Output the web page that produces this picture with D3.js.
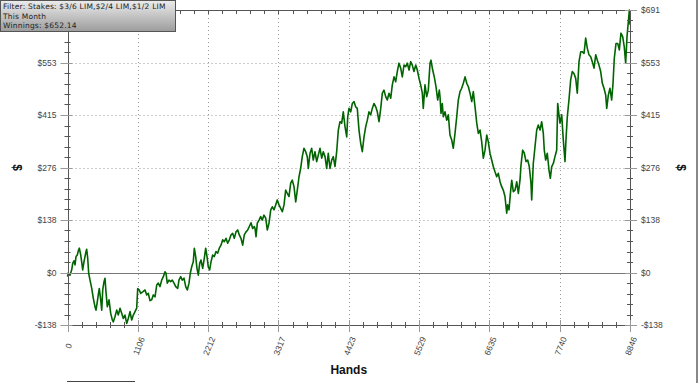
<!DOCTYPE html>
<meta charset="utf-8">
<style>
    body {
        margin: 0;
        padding: 0;
        background: #fff;
        font-family: "Liberation Sans", Arial, sans-serif;
    }

    svg {
        display: block;
    }

    .grid line {
        stroke: #999;
        stroke-dasharray: 1, 3;
    }

    .tick-label {
        fill: #444;
        font-size: 8.5px;
    }

    .axis-title {
        font-weight: bold;
        font-size: 12px;
        fill: #111;
    }
</style>
<svg width="700" height="383"></svg>
<script src="https://d3js.org/d3.v7.min.js"></script>
<script>
    // hands played (x) and cumulative winnings in $ (y)
    var hands = [0, 13, 39, 66, 82, 102, 118, 134, 154, 170, 186, 208, 223, 239, 259, 275, 291, 302, 318, 333,
        354, 381, 406, 432, 448, 469, 484, 500, 522, 538, 554, 574, 590, 605, 626, 653, 679, 705, 720, 747,
        774, 799, 826, 852, 878, 904, 931, 956, 983, 1010, 1035, 1062, 1088, 1104, 1129, 1151, 1183, 1219, 1246, 1271,
        1297, 1324, 1349, 1376, 1403, 1428, 1455, 1481, 1507, 1533, 1549, 1569, 1596, 1623, 1648, 1675, 1702, 1733, 1753, 1780,
        1805, 1832, 1859, 1884, 1911, 1931, 1953, 1978, 1994, 2016, 2036, 2057, 2079, 2099, 2126, 2151, 2173, 2194, 2214, 2236,
        2257, 2283, 2309, 2335, 2362, 2387, 2414, 2441, 2466, 2493, 2519, 2545, 2571, 2598, 2623, 2650, 2677, 2702, 2728, 2755,
        2780, 2807, 2834, 2859, 2886, 2912, 2938, 2949, 2965, 2985, 3012, 3038, 3063, 3090, 3117, 3142, 3169, 3196, 3221, 3248,
        3274, 3299, 3326, 3353, 3378, 3405, 3431, 3457, 3483, 3510, 3535, 3562, 3589, 3614, 3641, 3667, 3692, 3719, 3746, 3771,
        3787, 3814, 3840, 3865, 3892, 3919, 3944, 3971, 3998, 4023, 4050, 4076, 4101, 4128, 4155, 4180, 4207, 4233, 4259, 4285,
        4312, 4337, 4364, 4391, 4407, 4427, 4454, 4479, 4506, 4532, 4557, 4584, 4611, 4636, 4663, 4690, 4715, 4741, 4768, 4793,
        4820, 4847, 4872, 4899, 4926, 4951, 4977, 5004, 5029, 5056, 5083, 5108, 5135, 5161, 5186, 5213, 5240, 5265, 5292, 5319,
        5344, 5371, 5397, 5422, 5449, 5476, 5501, 5528, 5554, 5580, 5595, 5622, 5649, 5674, 5701, 5716, 5743, 5768, 5795, 5822,
        5847, 5858, 5874, 5894, 5910, 5937, 5963, 5989, 6015, 6042, 6067, 6094, 6121, 6146, 6173, 6199, 6225, 6252, 6279, 6304,
        6330, 6357, 6382, 6409, 6436, 6461, 6488, 6514, 6539, 6566, 6593, 6618, 6644, 6671, 6696, 6723, 6750, 6775, 6802, 6828,
        6853, 6880, 6907, 6922, 6943, 6970, 6986, 7011, 7038, 7065, 7090, 7116, 7132, 7158, 7184, 7211, 7237, 7262, 7289, 7300,
        7325, 7352, 7379, 7404, 7431, 7457, 7483, 7498, 7520, 7545, 7572, 7593, 7615, 7640, 7666, 7693, 7709, 7729, 7745, 7772,
        7797, 7824, 7839, 7860, 7886, 7913, 7938, 7965, 7992, 8017, 8044, 8071, 8096, 8123, 8149, 8175, 8201, 8228, 8253, 8280,
        8307, 8332, 8358, 8385, 8411, 8437, 8464, 8480, 8505, 8531, 8558, 8579, 8599, 8626, 8653, 8678, 8704, 8731, 8756, 8778,
        8799, 8820, 8836, 8846];

    var winnings = [-11, -1, -7, 7, 24, 31, 20, 42, 46, 57, 64, 46, 28, 7, 28, 42, 55, 61, 37, -2,
        -20, -42, -68, -90, -99, -77, -59, -42, -72, -99, -46, -24, -15, -51, -90, -72, -107, -125, -130, -116,
        -99, -112, -94, -107, -121, -112, -134, -121, -103, -125, -112, -103, -94, -42, -46, -55, -51, -46, -59, -55,
        -74, -72, -59, -64, -33, -28, -37, -20, -11, 2, -2, -28, -20, -24, -20, -28, -37, -42, -20, -11,
        -20, -15, -37, -46, -28, -2, 15, 28, 64, 42, 11, -7, 24, 33, 11, 37, 64, 42, 15, 7,
        28, 46, 42, 55, 51, 64, 72, 86, 81, 90, 77, 86, 99, 103, 90, 107, 112, 99, 90, 72,
        99, 107, 112, 121, 131, 116, 121, 116, 94, 130, 138, 147, 138, 151, 143, 112, 130, 165, 173, 165,
        178, 191, 178, 169, 160, 178, 217, 208, 200, 235, 243, 226, 186, 217, 252, 274, 305, 327, 318, 305,
        274, 314, 327, 296, 318, 292, 309, 327, 301, 318, 305, 274, 314, 274, 296, 305, 279, 318, 375, 397,
        393, 423, 384, 357, 410, 432, 423, 445, 450, 436, 432, 375, 340, 318, 357, 384, 401, 423, 415, 432,
        445, 436, 423, 397, 432, 472, 480, 463, 454, 472, 459, 494, 515, 502, 529, 551, 538, 515, 546, 542,
        551, 533, 555, 546, 529, 546, 533, 511, 494, 472, 432, 494, 463, 480, 551, 559, 533, 515, 489, 454,
        480, 463, 419, 445, 410, 423, 401, 415, 362, 349, 327, 366, 410, 454, 476, 485, 498, 515, 498, 489,
        472, 450, 476, 436, 393, 366, 375, 344, 301, 322, 362, 344, 314, 296, 279, 265, 252, 261, 239, 226,
        217, 200, 156, 178, 165, 217, 243, 213, 217, 239, 208, 243, 283, 322, 314, 292, 296, 279, 235, 191,
        287, 331, 375, 388, 375, 397, 366, 322, 296, 314, 270, 248, 279, 287, 305, 322, 445, 415, 393, 415,
        349, 292, 349, 410, 454, 507, 529, 524, 511, 472, 555, 581, 581, 577, 617, 590, 573, 568, 555, 538,
        573, 559, 546, 529, 498, 485, 467, 432, 467, 485, 454, 498, 564, 603, 603, 586, 630, 621, 594, 551,
        621, 660, 691, 652.14];

    var xTicks = [0, 1105.75, 2211.5, 3317.25, 4423, 5528.75, 6634.5, 7740.25, 8846];
    var xTickLabels = ["0", "1106", "2212", "3317", "4423", "5529", "6635", "7740", "8846"];
    var yTicks = [-138.2, 0, 138.2, 276.4, 414.6, 552.8, 691];
    var yTickLabels = ["-$138", "$0", "$138", "$276", "$415", "$553", "$691"];
    var infoLines = ["Filter: Stakes: $3/6 LIM,$2/4 LIM,$1/2 LIM", "This Month", "Winnings: $652.14"];

    var svg = d3.select("svg");
    var pLeft = 67.5, pRight = 630, pTop = 10, pBottom = 325;

    var x = d3.scaleLinear().domain([0, 8846]).range([pLeft, pRight]);
    var y = d3.scaleLinear().domain([-138.2, 691]).range([pBottom, pTop]);

    // minor tick positions: 5 per major interval
    var xMinor = d3.range(0, 41).map(function(i) { return i * 8846 / 40; });
    var yMinor = d3.range(0, 31).map(function(i) { return -138.2 + i * 27.64; });

    function px(v) { return Math.round(v) + 0.5; }

    // dotted grid
    var grid = svg.append("g").attr("class", "grid");
    grid.selectAll(".gx").data(xTicks.slice(1, -1)).enter().append("line")
        .attr("x1", d => px(x(d))).attr("x2", d => px(x(d)))
        .attr("y1", pTop).attr("y2", pBottom);
    grid.selectAll(".gy").data(yTicks.filter(d => d != 0 && d != -138.2 && d != 691)).enter().append("line")
        .attr("x1", pLeft).attr("x2", pRight)
        .attr("y1", d => px(y(d))).attr("y2", d => px(y(d)));

    // zero line
    svg.append("line")
        .attr("x1", pLeft).attr("x2", pRight)
        .attr("y1", px(y(0))).attr("y2", px(y(0)))
        .attr("stroke", "#777").attr("stroke-width", 1);

    // winnings line
    var line = d3.line()
        .x(function(d, i) { return x(hands[i]); })
        .y(function(d) { return y(d); });

    svg.append("path")
        .datum(winnings)
        .attr("d", line)
        .attr("fill", "none")
        .attr("stroke", "#006400")
        .attr("stroke-width", 1.6)
        .attr("stroke-linejoin", "round");

    // frame axes
    var axisG = svg.append("g").attr("fill", "none").attr("stroke", "#555").attr("stroke-width", 1);
    axisG.append("rect")
        .attr("x", px(pLeft)).attr("y", px(pTop))
        .attr("width", Math.round(pRight) - Math.round(pLeft)).attr("height", Math.round(pBottom) - Math.round(pTop));

    // minor ticks on all four sides
    axisG.selectAll(".mtb").data(xMinor).enter().append("line")
        .attr("x1", d => px(x(d))).attr("x2", d => px(x(d)))
        .attr("y1", pBottom - 3).attr("y2", pBottom + 3);
    axisG.selectAll(".mtt").data(xMinor).enter().append("line")
        .attr("x1", d => px(x(d))).attr("x2", d => px(x(d)))
        .attr("y1", pTop).attr("y2", pTop + 4);
    axisG.selectAll(".mtl").data(yMinor).enter().append("line")
        .attr("x1", pLeft - 3).attr("x2", pLeft + 3)
        .attr("y1", d => px(y(d))).attr("y2", d => px(y(d)));
    axisG.selectAll(".mtr").data(yMinor).enter().append("line")
        .attr("x1", pRight - 3).attr("x2", pRight + 3)
        .attr("y1", d => px(y(d))).attr("y2", d => px(y(d)));

    // major ticks, longer and grey
    var majG = svg.append("g").attr("stroke", "#999").attr("stroke-width", 1);
    majG.selectAll(".Mb").data(xTicks).enter().append("line")
        .attr("x1", d => px(x(d))).attr("x2", d => px(x(d)))
        .attr("y1", pBottom - 5).attr("y2", pBottom + 7);
    majG.selectAll(".Ml").data(yTicks).enter().append("line")
        .attr("x1", pLeft - 7).attr("x2", pLeft + 5)
        .attr("y1", d => px(y(d))).attr("y2", d => px(y(d)));
    majG.selectAll(".Mr").data(yTicks).enter().append("line")
        .attr("x1", pRight - 5).attr("x2", pRight + 7)
        .attr("y1", d => px(y(d))).attr("y2", d => px(y(d)));

    // y tick labels, both sides
    svg.selectAll(".yl").data(yTicks).enter().append("text")
        .attr("class", "tick-label")
        .attr("x", pLeft - 11).attr("y", d => y(d) + 3)
        .attr("text-anchor", "end")
        .text(function(d, i) { return yTickLabels[i]; });
    svg.selectAll(".yr").data(yTicks).enter().append("text")
        .attr("class", "tick-label")
        .attr("x", pRight + 11).attr("y", d => y(d) + 3)
        .attr("text-anchor", "start")
        .text(function(d, i) { return yTickLabels[i]; });

    // x tick labels, rotated
    svg.selectAll(".xl").data(xTicks).enter().append("text")
        .attr("class", "tick-label")
        .attr("text-anchor", "middle")
        .attr("transform", d => "translate(" + (x(d) + 1) + "," + 346 + ") rotate(-68)")
        .attr("dy", "0.35em")
        .text(function(d, i) { return xTickLabels[i]; });

    // axis titles
    svg.append("text").attr("class", "axis-title")
        .attr("x", (pLeft + pRight) / 2).attr("y", 374)
        .attr("text-anchor", "middle").text("Hands");
    svg.append("text").attr("class", "axis-title")
        .attr("transform", "translate(17," + y(276.4) + ") rotate(90)")
        .attr("text-anchor", "middle").attr("dy", "0.35em").text("$");
    svg.append("text").attr("class", "axis-title")
        .attr("transform", "translate(681," + y(276.4) + ") rotate(90)")
        .attr("text-anchor", "middle").attr("dy", "0.35em").text("$");

    // info box
    var defs = svg.append("defs");
    var grad = defs.append("linearGradient").attr("id", "boxGrad")
        .attr("x1", 0).attr("y1", 0).attr("x2", 0).attr("y2", 1);
    grad.append("stop").attr("offset", "0%").attr("stop-color", "#ececec");
    grad.append("stop").attr("offset", "100%").attr("stop-color", "#9c9c9c");

    var box = svg.append("g");
    box.append("rect")
        .attr("x", 0.5).attr("y", 0.5).attr("width", 175).attr("height", 31)
        .attr("fill", "url(#boxGrad)").attr("stroke", "#555");
    box.selectAll("text").data(infoLines).enter().append("text")
        .attr("x", 3).attr("y", (d, i) => 9 + i * 9.6)
        .attr("font-family", "'DejaVu Sans', Verdana, sans-serif")
        .attr("font-size", "7.5px")
        .attr("letter-spacing", "0.2px")
        .attr("fill", "#222")
        .text(d => d);

    // right border and bottom scroll line
    svg.append("rect").attr("x", 696).attr("y", 0).attr("width", 2).attr("height", 383).attr("fill", "#888");
    svg.append("line").attr("x1", 67).attr("x2", 135).attr("y1", 381.5).attr("y2", 381.5)
        .attr("stroke", "#444").attr("stroke-width", 1);
</script>
